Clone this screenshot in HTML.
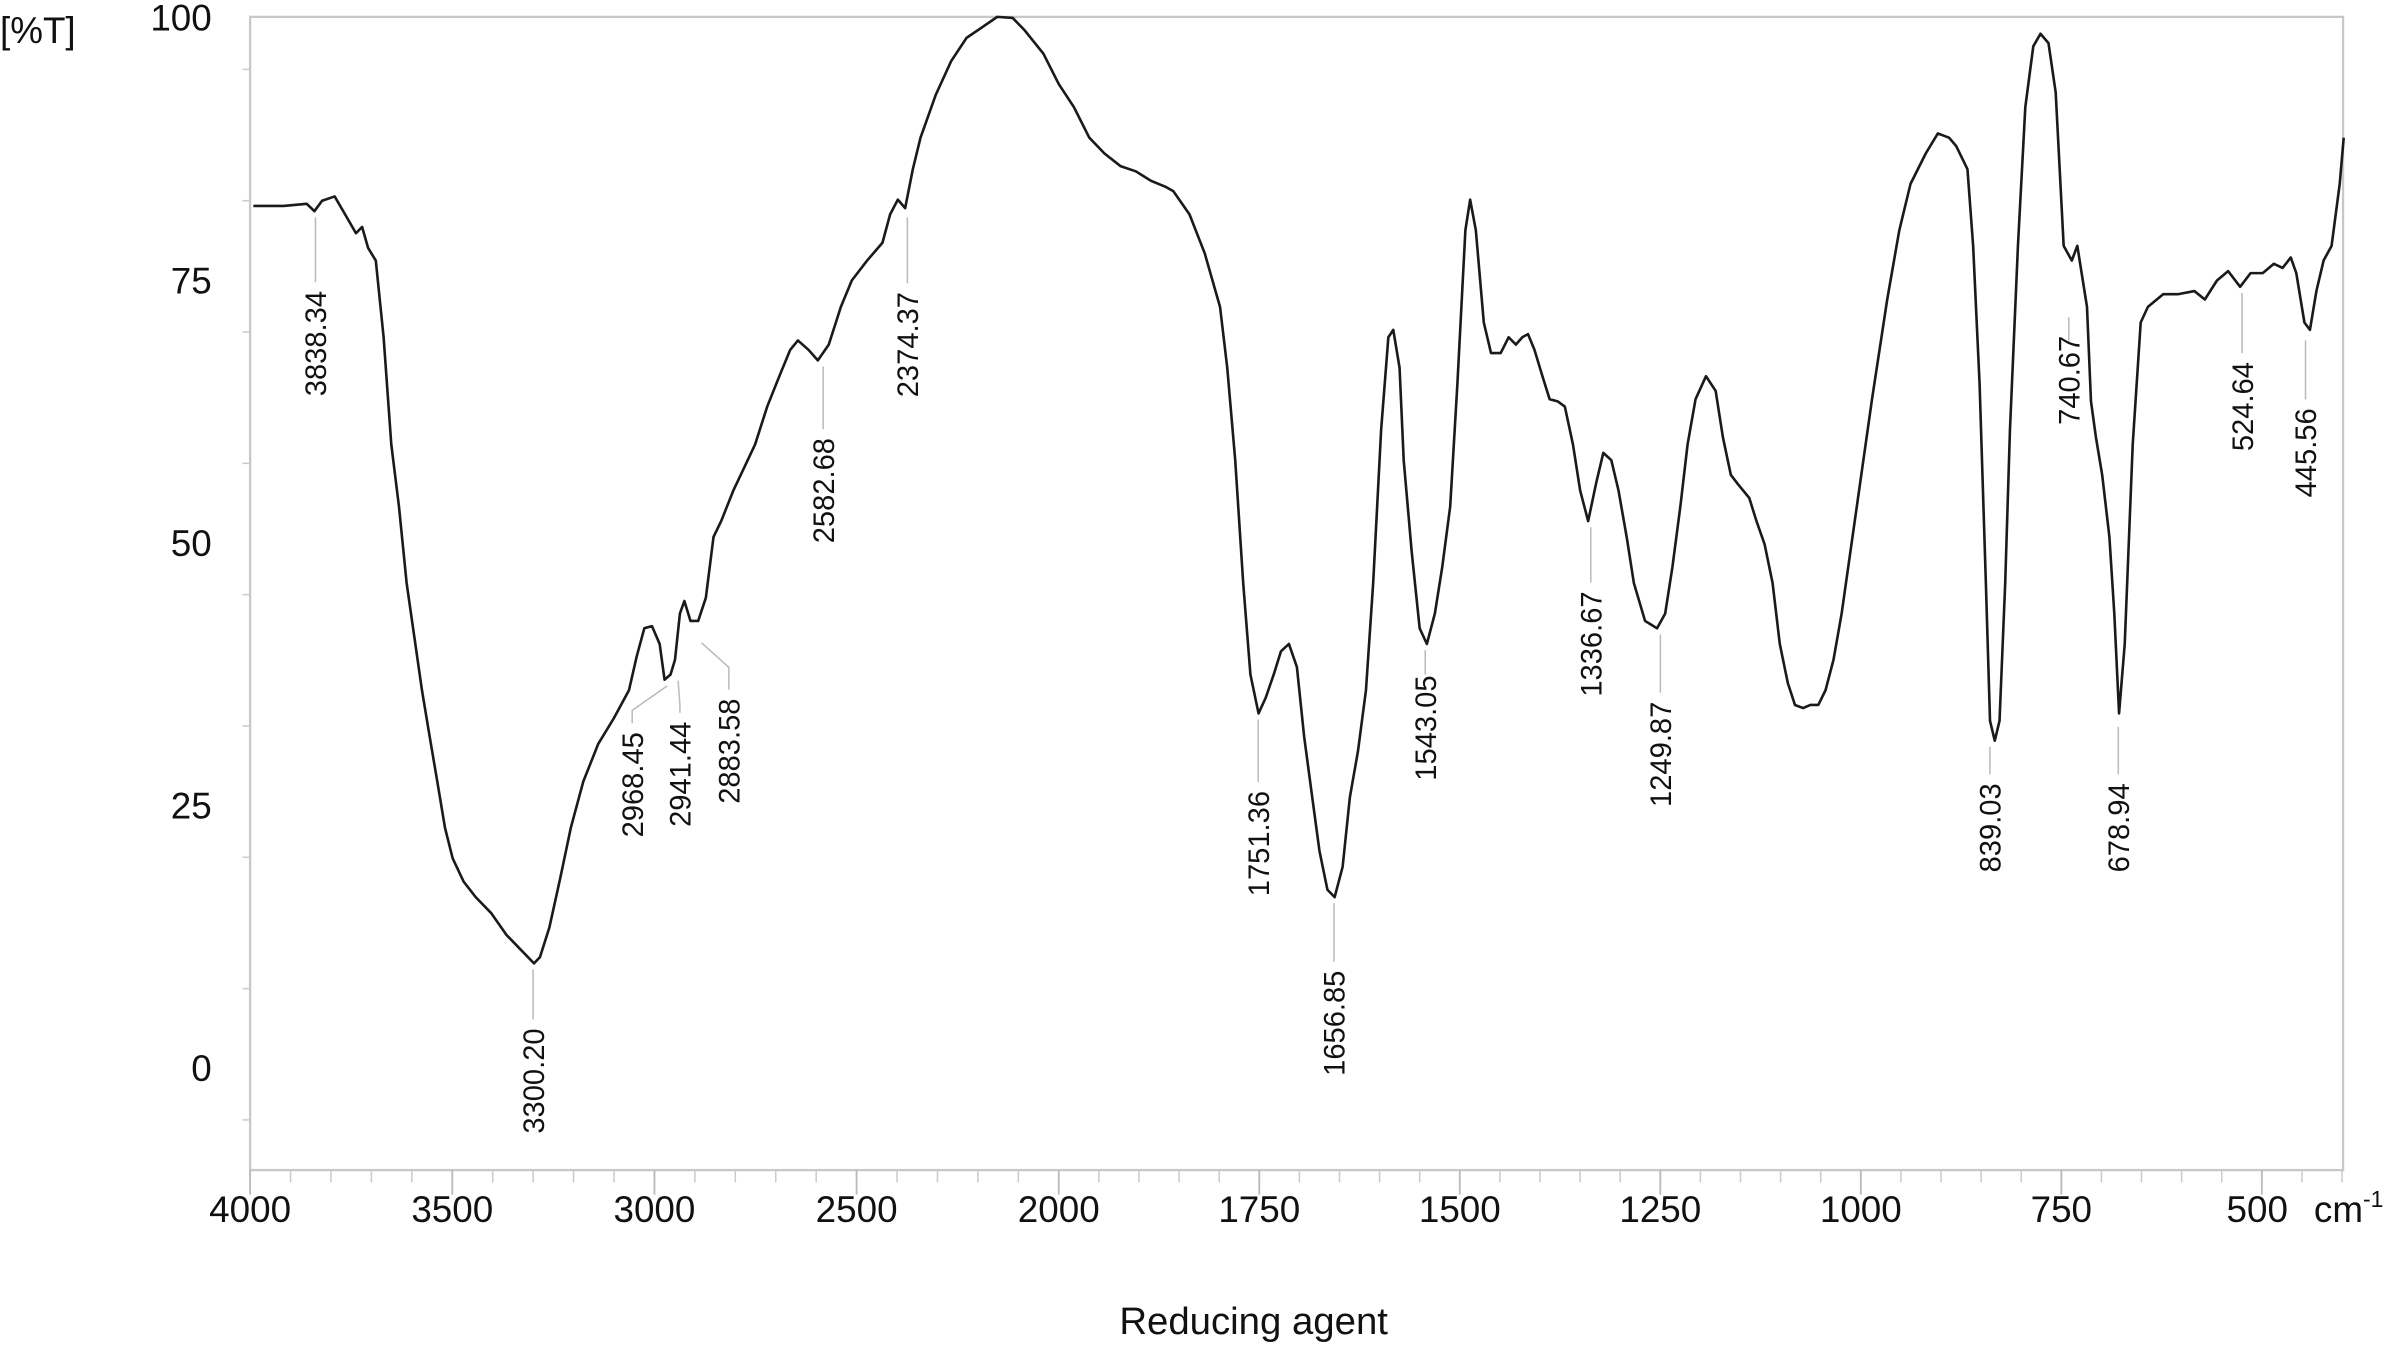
<!DOCTYPE html>
<html><head><meta charset="utf-8"><style>
html,body{margin:0;padding:0;background:#fff;}
svg{display:block;}
text{font-family:"Liberation Sans",sans-serif;fill:#111;}
</style></head><body>
<svg id="chart" width="2406" height="1348" viewBox="0 0 1568 879" preserveAspectRatio="none" xmlns="http://www.w3.org/2000/svg">
<g id="axes"></g>
<g id="labels"></g>
<path id="spec" fill="none" stroke="#1a1a1a" stroke-width="1.7" stroke-linejoin="round"></path>
<text x="0" y="28" font-size="24">[%T]</text>
<text x="817" y="870" font-size="25" text-anchor="middle">Reducing agent</text>
</svg>
<script>
const wavenumbers=[3992,3917,3860,3841,3822,3791,3765,3738,3723,3708,3689,3670,3651,3632,3613,3594,3575,3556,3537,3518,3499,3472,3442,3404,3366,3328,3298,3283,3260,3233,3207,3176,3139,3101,3063,3044,3025,3006,2987,2975,2960,2949,2937,2926,2911,2892,2873,2854,2835,2805,2778,2751,2721,2691,2664,2645,2619,2596,2569,2539,2512,2474,2436,2417,2398,2380,2361,2342,2304,2266,2228,2190,2152,2114,2084,2038,2000,1981,1962,1943,1923,1904,1885,1866,1857,1837,1818,1799,1790,1780,1770,1761,1751,1742,1732,1723,1713,1703,1694,1684,1675,1665,1656,1646,1637,1627,1617,1608,1598,1589,1583,1575,1570,1560,1550,1541,1531,1522,1512,1503,1493,1487,1480,1470,1461,1449,1439,1430,1422,1415,1407,1397,1388,1378,1369,1359,1350,1340,1330,1321,1311,1302,1292,1283,1269,1254,1244,1235,1225,1216,1206,1193,1181,1172,1162,1153,1139,1130,1120,1110,1101,1091,1082,1072,1063,1053,1044,1034,1024,1005,986,967,952,938,919,904,890,881,867,860,852,844,839,833,827,820,814,804,795,785,776,766,757,747,737,730,718,713,707,699,690,684,678,671,661,651,642,623,604,584,571,556,542,527,514,499,485,474,464,457,447,440,432,423,413,403,398];
const transmittance=[82.0,82.0,82.2,81.5,82.5,82.9,81.2,79.4,80.0,78.0,76.8,69.5,59.3,53.4,46.1,41.0,35.9,31.5,27.2,22.8,19.9,17.7,16.2,14.7,12.6,11.1,9.9,10.5,13.3,18.0,22.8,27.2,30.8,33.2,35.9,39.1,41.8,42.0,40.3,36.9,37.4,38.8,43.2,44.4,42.5,42.5,44.7,50.5,52.0,54.9,57.1,59.3,62.9,65.8,68.3,69.2,68.3,67.3,68.8,72.4,74.9,76.8,78.5,81.2,82.6,81.8,85.5,88.5,92.6,95.8,98.0,99.0,100,99.9,98.7,96.5,93.6,91.4,88.5,87.0,85.8,85.3,84.4,83.8,83.4,81.2,77.5,72.4,66.6,57.8,46.1,37.4,33.7,35.2,37.4,39.6,40.3,38.1,31.5,25.7,20.6,16.9,16.2,19.1,25.7,30.1,35.9,46.1,60.7,69.5,70.2,66.6,57.8,49.1,41.8,40.3,43.2,47.6,53.4,65.1,79.7,82.6,79.7,70.9,68.0,68.0,69.5,68.8,69.5,69.8,68.3,65.8,63.6,63.4,62.9,59.3,54.9,52.0,55.6,58.5,57.8,54.9,50.5,46.1,42.5,41.8,43.2,47.6,53.4,59.3,63.6,65.8,64.4,60.0,56.4,55.5,54.2,52.0,49.8,46.1,40.3,36.6,34.5,34.2,34.5,34.5,35.9,38.8,43.2,53.4,63.6,73.1,79.7,84.1,87.0,88.9,88.5,87.7,85.5,78.2,65.1,46.1,33.0,31.1,33.0,46.1,60.7,78.2,91.4,97.2,98.4,97.5,92.8,78.2,76.8,78.2,72.4,63.4,60.0,56.4,50.5,43.2,33.7,40.3,59.3,70.9,72.4,73.6,73.6,73.9,73.1,74.9,75.8,74.3,75.6,75.6,76.5,76.1,77.1,75.6,70.9,70.2,73.9,76.8,78.2,84.1,88.5];
const peakLabels=["3838.34","3300.20","2968.45","2941.44","2883.58","2582.68","2374.37","1751.36","1656.85","1543.05","1336.67","1249.87","839.03","740.67","678.94","524.64","445.56"];
const peakWn=[3838.34,3300.20,2968.45,2941.44,2883.58,2582.68,2374.37,1751.36,1656.85,1543.05,1336.67,1249.87,839.03,740.67,678.94,524.64,445.56];
const peakLabelWn=[3838.34,3300.20,3055,2937,2816,2582.68,2374.37,1751.36,1656.85,1543.05,1336.67,1249.87,839.03,740.67,678.94,524.64,445.56];
const peakLabelT=[68.9,-1.3,26.9,27.9,30.1,54.9,68.8,21.3,4.2,32.3,40.3,29.8,22.8,65.4,22.8,62.9,58.5];
const peakTipT=[81.5,9.9,36.9,37.4,41.0,67.3,81.5,33.7,16.2,40.3,52.0,41.8,31.1,72.0,33.0,74.3,69.8];
const xTicks=[4000,3500,3000,2500,2000,1750,1500,1250,1000,750,500];
const yTicks=[0,25,50,75,100];

const L=163,R=1527,TOP=11,BOT=763;
function xs(w){return w>=2000? 163+(4000-w)*0.2635 : 690+(2000-w)*0.5227;}
function ys(t){return 696-t*6.85;}
const NS="http://www.w3.org/2000/svg";
function mk(tag,parent,attrs){const e=document.createElementNS(NS,tag);for(const k in attrs)e.setAttribute(k,attrs[k]);parent.appendChild(e);return e;}
const ax=document.getElementById('axes');
let f=mk('rect',ax,{x:L,y:TOP,width:R-L,height:BOT-TOP,fill:'none',stroke:'#c8c8c8','stroke-width':1.5});


for(let w=4000;w>=400;w-=(w>2000?100:50)){
  const t=mk('line',ax,{x1:xs(w),x2:xs(w),y1:BOT,y2:BOT+8,stroke:'#ccc','stroke-width':1});
  
  
}
xTicks.forEach(w=>{
  const t=mk('line',ax,{x1:xs(w),x2:xs(w),y1:BOT,y2:BOT+16,stroke:'#bbb','stroke-width':1.2});
  
  
  const tx=mk('text',ax,{x:xs(w)+(w===500?-3:0),y:797,'font-size':24,'text-anchor':'middle'});
  tx.textContent=String(w);
  
  
});
const cm=mk('text',ax,{x:1508,y:797,'font-size':24});
cm.innerHTML='cm<tspan dy="-10" font-size="15">-1</tspan>';


for(let t=-5;t<=100;t+=12.5){
  const tk=mk('line',ax,{x1:L-(t%25===0?10:5),x2:L,y1:ys(t),y2:ys(t),stroke:'#ccc','stroke-width':1});
  
  
}
yTicks.forEach(t=>{
  const tx=mk('text',ax,{x:138,y:ys(t)+9,'font-size':24,'text-anchor':'end'});
  tx.textContent=String(t);
  
  
});
let d='';
wavenumbers.forEach((w,i)=>{d+=(i?'L':'M')+xs(w).toFixed(1)+','+ys(transmittance[i]).toFixed(1);});
document.getElementById('spec').setAttribute('d',d);
const lg=document.getElementById('labels');
peakLabels.forEach((s,i)=>{
  const xp=xs(peakWn[i]),x=xs(peakLabelWn[i]),yc=ys(peakLabelT[i]);
  const half=s.length*5.3;
  const ld=mk('polyline',lg,{points:`${xp},${ys(peakTipT[i])+4} ${x},${ys(peakTipT[i])+20} ${x},${yc-half-3}`,fill:'none',stroke:'#bbb','stroke-width':1});
  
  
  const tx=mk('text',lg,{x:x+7,y:yc,'font-size':19,'text-anchor':'middle',transform:`rotate(-90 ${x+7} ${yc})`});
  tx.textContent=s;
  
  
});
</script>
</body></html>
